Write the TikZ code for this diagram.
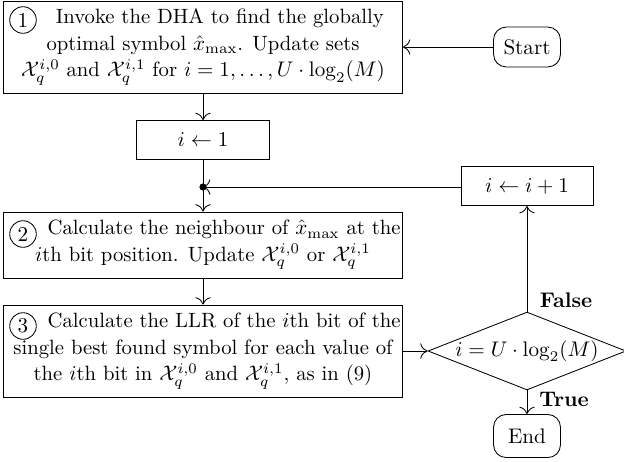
\documentclass[tikz,border=0pt]{standalone}
\usepackage{amsmath}
\usetikzlibrary{shapes.geometric,arrows.meta}
\begin{document}
\begin{tikzpicture}[x=0.4737pt,y=-0.4737pt,
  procbox/.style={draw,rectangle,align=center,inner sep=0.5pt,font=\fontsize{9.8}{12.6}\selectfont},
  termbox/.style={draw,rectangle,rounded corners=6pt,minimum width=31.7pt,minimum height=18.9pt,inner sep=2pt},
  decbox/.style={draw,diamond,aspect=2.54,minimum width=93.8pt,minimum height=36.9pt,inner sep=0pt},
  numcirc/.style={draw,circle,minimum size=12.6pt,inner sep=0pt},
  arr/.style={-{To[scale=1.4]}},
  lbl/.style={font=\bfseries}]
\useasboundingbox (0,0) rectangle (624,461);
\node[procbox,minimum width=189pt,minimum height=43.6pt] (b1) at (203,47)
  {\hspace*{16pt}Invoke the DHA to find the globally\\
   optimal symbol $\hat{x}_{\max}$. Update sets\\
   $\mathcal{X}_q^{i,0}$ and $\mathcal{X}_q^{i,1}$ for $i=1,\ldots,U\cdot\log_2(M)$};
\node[numcirc] (c1) at (23,20) {1};
\node[termbox] (start) at (527,47) {Start};
\node[procbox,minimum width=63pt,minimum height=18.5pt] (init) at (203,140) {$i\leftarrow 1$};
\coordinate (dot) at (203,187);
\node[procbox,minimum width=189pt,minimum height=31.3pt] (b2) at (203,245)
  {\hspace*{20pt}Calculate the neighbour of $\hat{x}_{\max}$ at the\\
   $i$th bit position. Update $\mathcal{X}_q^{i,0}$ or $\mathcal{X}_q^{i,1}$};
\node[numcirc] (c2) at (23,234) {2};
\node[procbox,minimum width=189pt,minimum height=43.6pt] (b3) at (203,351)
  {\hspace*{20pt}Calculate the LLR of the $i$th bit of the\\
   single best found symbol for each value of\\
   the $i$th bit in $\mathcal{X}_q^{i,0}$ and $\mathcal{X}_q^{i,1}$, as in (9)};
\node[numcirc] (c3) at (23,326) {3};
\node[decbox] (dec) at (527,351) {$i=U\cdot\log_2(M)$};
\node[procbox,font=\normalsize,minimum width=62.5pt,minimum height=18.5pt] (inc) at (527,186) {$i\leftarrow i+1$};
\node[termbox,minimum height=20.4pt] (end) at (527,436) {End};
\node[lbl] (fl) at (566,300) {False};
\node[lbl] (tl) at (564,399) {True};
\draw[arr] (start) -- (b1.east |- start);
\draw[arr] (b1) -- (init);
\draw (init) -- (dot);
\draw[arr] (dot) -- (b2);
\draw[arr] (inc.west |- dot) -- (dot);
\fill (dot) circle (1.7pt);
\draw[arr] (b2) -- (b3);
\draw[arr] (b3.east) -- (dec.west);
\draw[arr] (dec.north) -- (inc.south);
\draw[arr] (dec.south) -- (end.north);
\end{tikzpicture}
\end{document}
